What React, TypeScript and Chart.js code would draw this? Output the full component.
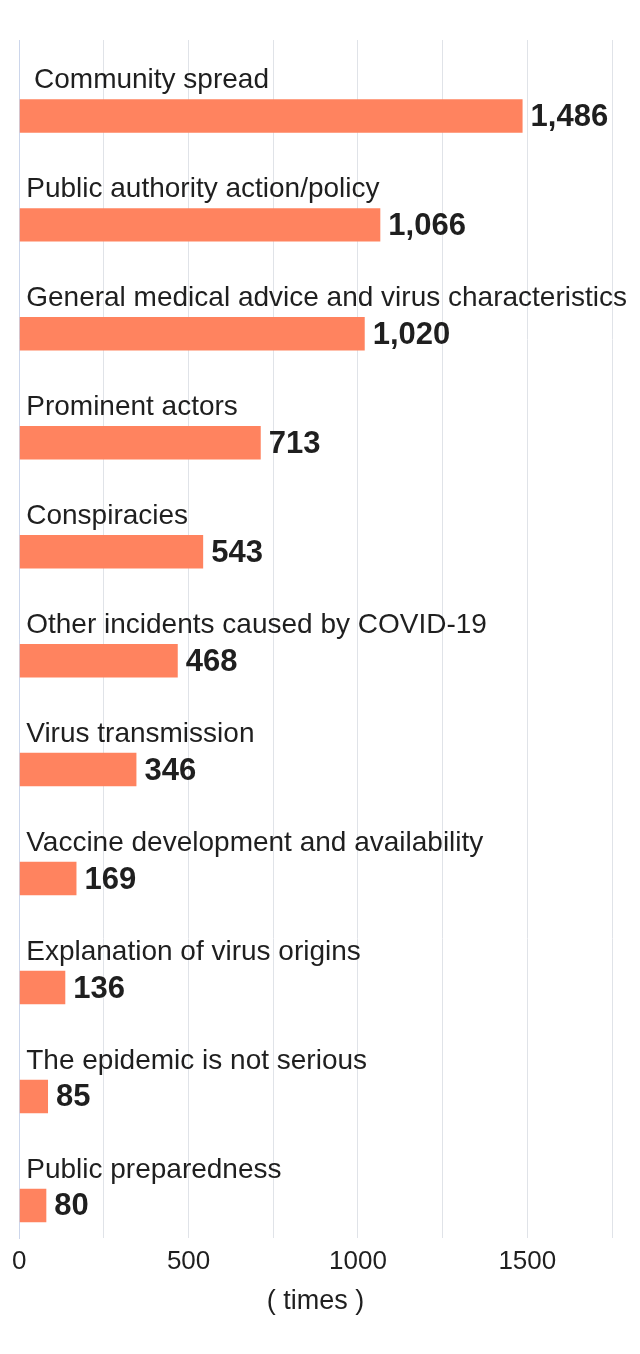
import React, { useEffect, useRef } from "react";
import { Chart, registerables } from "chart.js";

Chart.register(...registerables);

const categories = [
  " Community spread",
  "Public authority action/policy",
  "General medical advice and virus characteristics",
  "Prominent actors",
  "Conspiracies",
  "Other incidents caused by COVID-19",
  "Virus transmission",
  "Vaccine development and availability",
  "Explanation of virus origins",
  "The epidemic is not serious",
  "Public preparedness",
];

const counts = [1486, 1066, 1020, 713, 543, 468, 346, 169, 136, 85, 80];

const xTickLabels = ["0", "500", "1000", "1500"];
const axisTitle = "( times )";

const FONT = "'Liberation Sans', Arial, Helvetica, sans-serif";
const BAR_COLOR = "#ff835f";
const TEXT_COLOR = "#1f1f1f";

const valueLabelPlugin = {
  id: "valueLabels",
  afterDatasetsDraw(chart: any) {
    const ctx = chart.ctx;
    const meta = chart.getDatasetMeta(1);
    ctx.save();
    ctx.font = `bold 31px ${FONT}`;
    ctx.fillStyle = TEXT_COLOR;
    ctx.textAlign = "left";
    ctx.textBaseline = "middle";
    meta.data.forEach((el: any, i: number) => {
      const v = counts[i];
      ctx.fillText(v.toLocaleString("en-US"), el.x + 8, el.y + 1.5);
    });
    ctx.restore();
  },
};

export default function App() {
  const ref = useRef<HTMLCanvasElement | null>(null);

  useEffect(() => {
    if (!ref.current) return;
    Chart.defaults.font.family = FONT;
    const chart = new Chart(ref.current, {
      type: "bar",
      data: {
        labels: categories,
        datasets: [
          {
            label: "spacer",
            data: categories.map(() => null),
            backgroundColor: "rgba(0,0,0,0)",
          },
          {
            label: "times",
            data: counts,
            backgroundColor: BAR_COLOR,
            borderWidth: 0,
          },
        ],
      },
      options: {
        indexAxis: "y",
        animation: false,
        responsive: true,
        maintainAspectRatio: false,
        categoryPercentage: 0.788,
        barPercentage: 0.78,
        layout: { padding: { left: 7, top: 32, right: 20, bottom: 24 } },
        plugins: {
          legend: { display: false },
          tooltip: { enabled: false },
        },
        scales: {
          x: {
            min: 0,
            max: 1750,
            grid: { color: "#e0e3e8", lineWidth: 1, drawTicks: false },
            border: { display: false },
            ticks: {
              stepSize: 250,
              padding: 8,
              color: TEXT_COLOR,
              font: { size: 26, family: FONT },
              callback: (value: any) => {
                const s = String(value);
                return xTickLabels.includes(s) ? s : "";
              },
            },
            title: {
              display: true,
              text: axisTitle,
              color: TEXT_COLOR,
              font: { size: 27, family: FONT },
              padding: { top: 0, bottom: 4 },
            },
          },
          y: {
            grid: { display: false, drawTicks: false },
            border: { display: true, color: "#ccd6eb", width: 1 },
            afterFit: (scale: any) => {
              scale.width = 0;
            },
            ticks: {
              mirror: true,
              padding: 7,
              labelOffset: -14,
              autoSkip: false,
              color: TEXT_COLOR,
              font: { size: 28, family: FONT },
            },
          },
        },
      },
      plugins: [valueLabelPlugin],
    });
    return () => chart.destroy();
  }, []);

  return (
    <div style={{ position: "relative", width: 628, height: 1338, marginLeft: -4 }}>
      <canvas ref={ref} />
    </div>
  );
}
